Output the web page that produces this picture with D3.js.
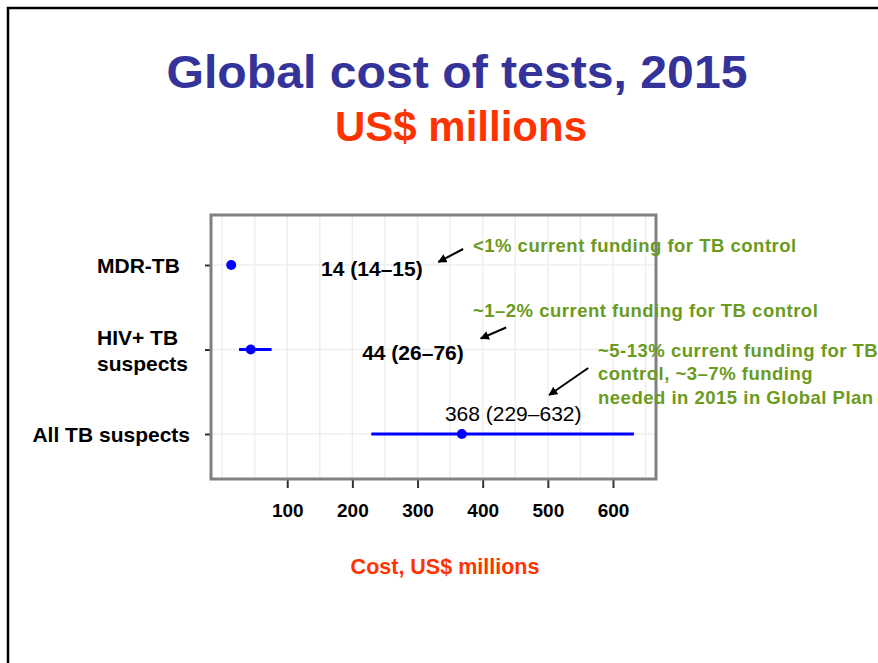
<!DOCTYPE html>
<html>
<head>
<meta charset="utf-8">
<script src="https://cdn.jsdelivr.net/npm/d3@7"></script>
<style>
  body { margin: 0; background: #fff; }
  svg { display: block; font-family: "Liberation Sans", Arial, sans-serif; }
</style>
</head>
<body>
<svg id="chart" width="878" height="663"></svg>
<script>
// data
const categories = ["MDR-TB", "HIV+ TB suspects", "All TB suspects"];
const catLabels = [["MDR-TB"], ["HIV+ TB", "suspects"], ["All TB suspects"]];
const estimates = [14, 44, 368];
const lower = [14, 26, 229];
const upper = [15, 76, 632];
const valueLabels = ["14 (14\u201315)", "44 (26\u201376)", "368 (229\u2013632)"];
const xTicks = [100, 200, 300, 400, 500, 600];
const notes = [
    ["<1% current funding for TB control"],
    ["~1\u20132% current funding for TB control"],
    ["~5-13% current funding for TB", "control, ~3\u20137% funding", "needed in 2015 in Global Plan"]
];

const svg = d3.select("#chart");
const W = 878, H = 663;

svg.append("rect").attr("width", W).attr("height", H).attr("fill", "#fff");

// slide frame (top + left edges only visible)
svg.append("path")
    .attr("d", `M8,${H} L8,8 L${W},8`)
    .attr("fill", "none")
    .attr("stroke", "#000")
    .attr("stroke-width", 2.5);

// titles
svg.append("text")
    .attr("x", 457).attr("y", 88)
    .attr("text-anchor", "middle")
    .attr("font-size", 47).attr("font-weight", "bold")
    .attr("fill", "#333399")
    .attr("textLength", 581).attr("lengthAdjust", "spacingAndGlyphs")
    .text("Global cost of tests, 2015");

svg.append("text")
    .attr("x", 461).attr("y", 141)
    .attr("text-anchor", "middle")
    .attr("font-size", 42).attr("font-weight", "bold")
    .attr("fill", "#ff3300")
    .text("US$ millions");

// plot area
const pLeft = 211, pRight = 656, pTop = 215, pBottom = 479;

const x = d3.scaleLinear().domain([-17, 666]).range([pLeft, pRight]);
const y = d3.scalePoint().domain(categories).range([265, 434]);

// grid
const g = svg.append("g");
g.selectAll(".vgrid")
    .data(d3.range(0, 651, 50))
    .enter().append("line")
    .attr("class", "vgrid")
    .attr("x1", d => x(d)).attr("x2", d => x(d))
    .attr("y1", pTop).attr("y2", pBottom)
    .attr("stroke", "#eeeeee").attr("stroke-width", 1.5);

g.selectAll(".hgrid")
    .data(categories)
    .enter().append("line")
    .attr("class", "hgrid")
    .attr("x1", pLeft).attr("x2", pRight)
    .attr("y1", d => y(d)).attr("y2", d => y(d))
    .attr("stroke", "#eeeeee").attr("stroke-width", 1.5);

// x axis ticks + labels
const xAxis = d3.axisBottom(x).tickValues(xTicks).tickSize(9).tickPadding(16);
const ax = svg.append("g")
    .attr("transform", `translate(0,${pBottom})`)
    .call(xAxis);
ax.select(".domain").remove();
ax.selectAll(".tick line").attr("stroke", "#333").attr("stroke-width", 2);
ax.selectAll(".tick text")
    .attr("font-size", 19).attr("font-weight", "bold")
    .attr("font-family", "Liberation Sans, Arial, sans-serif")
    .attr("fill", "#000");

// y axis ticks
const yAxis = d3.axisLeft(y).tickSize(6).tickFormat("");
const ay = svg.append("g")
    .attr("transform", `translate(${pLeft},0)`)
    .call(yAxis);
ay.select(".domain").remove();
ay.selectAll(".tick line").attr("stroke", "#333").attr("stroke-width", 2);

// plot frame
svg.append("rect")
    .attr("x", pLeft).attr("y", pTop)
    .attr("width", pRight - pLeft).attr("height", pBottom - pTop)
    .attr("fill", "none")
    .attr("stroke", "#808080").attr("stroke-width", 3);

// category labels
const labelX = [97, 97, 190];
const labelAnchor = ["start", "start", "end"];
categories.forEach((c, i) => {
    const lines = catLabels[i];
    const t = svg.append("text")
        .attr("x", labelX[i])
        .attr("y", y(c) - (lines.length - 1) * 13)
        .attr("text-anchor", labelAnchor[i])
        .attr("dominant-baseline", "central")
        .attr("font-size", 21).attr("font-weight", "bold")
        .attr("fill", "#000");
    lines.forEach((ln, j) => {
        t.append("tspan").attr("x", labelX[i]).attr("dy", j === 0 ? 0 : 26).text(ln);
    });
});

// error bars and points
svg.selectAll(".err")
    .data(categories)
    .enter().append("line")
    .attr("class", "err")
    .attr("x1", (d, i) => x(lower[i])).attr("x2", (d, i) => x(upper[i]))
    .attr("y1", d => y(d)).attr("y2", d => y(d))
    .attr("stroke", "#0000ff").attr("stroke-width", 3);

svg.selectAll(".pt")
    .data(categories)
    .enter().append("circle")
    .attr("class", "pt")
    .attr("cx", (d, i) => x(estimates[i]))
    .attr("cy", d => y(d))
    .attr("r", 5)
    .attr("fill", "#0000ff");

// value labels (x in data units, dy offset from row)
const valueLabelX = [152, 215, 342];
const valueLabelDy = [3, 3, -21];
const valueLabelWeight = ["bold", "bold", "normal"];
svg.selectAll(".vlabel")
    .data(categories)
    .enter().append("text")
    .attr("class", "vlabel")
    .attr("x", (d, i) => x(valueLabelX[i]))
    .attr("y", (d, i) => y(d) + valueLabelDy[i])
    .attr("dominant-baseline", "central")
    .attr("font-size", 21)
    .attr("font-weight", (d, i) => valueLabelWeight[i])
    .attr("fill", "#000")
    .text((d, i) => valueLabels[i]);

// arrows
svg.append("defs").append("marker")
    .attr("id", "arrow")
    .attr("viewBox", "0 0 10 10")
    .attr("refX", 9).attr("refY", 5)
    .attr("markerWidth", 4.5).attr("markerHeight", 4.5)
    .attr("orient", "auto")
    .append("path")
    .attr("d", "M0,0 L10,5 L0,10 z")
    .attr("fill", "#000");

const arrowFrom = [[370, -16], [436, -22], [562, -66]];
const arrowTo = [[332, -3], [397, -11], [502, -39]];
svg.selectAll(".arrow")
    .data(categories)
    .enter().append("line")
    .attr("class", "arrow")
    .attr("x1", (d, i) => x(arrowFrom[i][0])).attr("y1", (d, i) => y(d) + arrowFrom[i][1])
    .attr("x2", (d, i) => x(arrowTo[i][0])).attr("y2", (d, i) => y(d) + arrowTo[i][1])
    .attr("stroke", "#000").attr("stroke-width", 2)
    .attr("marker-end", "url(#arrow)");

// green notes
const noteX = [385, 385, 577];
const noteDy = [-20, -39.5, -84];
categories.forEach((c, i) => {
    notes[i].forEach((ln, j) => {
        svg.append("text")
            .attr("x", x(noteX[i]))
            .attr("y", y(c) + noteDy[i] + j * 23.5)
            .attr("dominant-baseline", "central")
            .attr("font-size", 18.5).attr("font-weight", "bold")
            .attr("letter-spacing", 0.5)
            .attr("fill", "#6b9a1e")
            .text(ln);
    });
});

// x axis title
svg.append("text")
    .attr("x", 445).attr("y", 567)
    .attr("text-anchor", "middle")
    .attr("dominant-baseline", "central")
    .attr("font-size", 21.5).attr("font-weight", "bold")
    .attr("fill", "#ff3300")
    .text("Cost, US$ millions");
</script>
</body>
</html>
